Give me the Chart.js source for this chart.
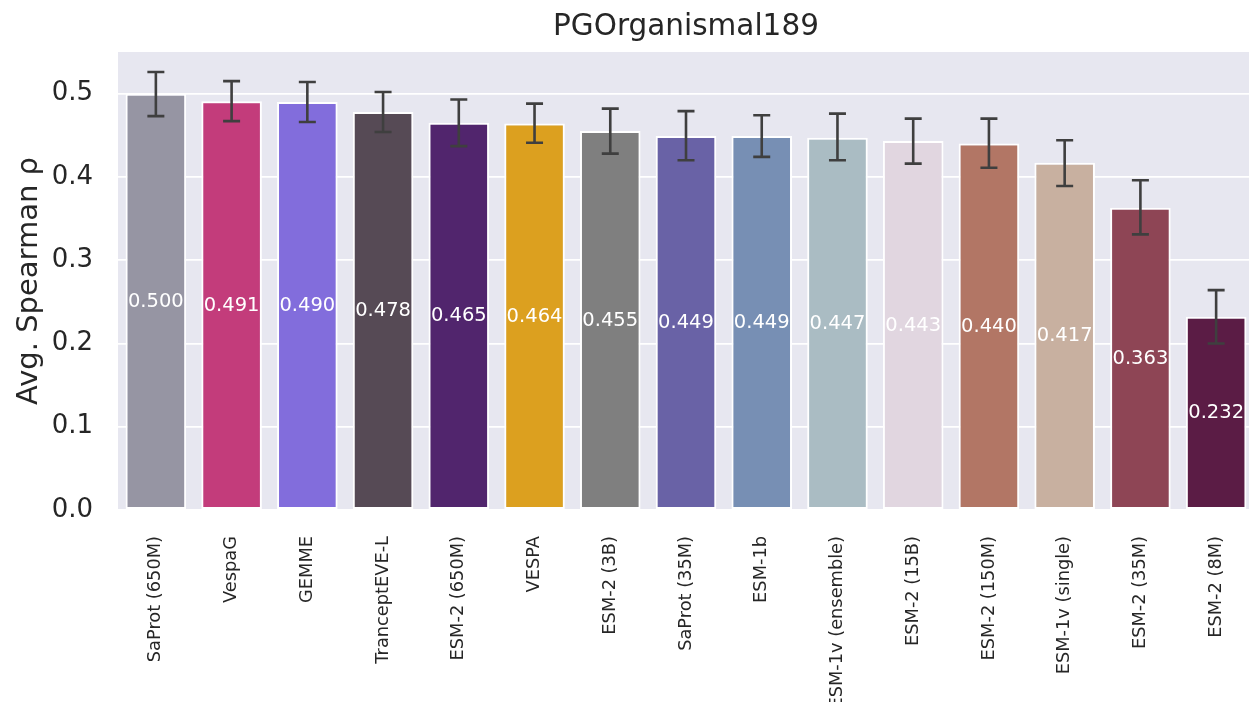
<!DOCTYPE html>
<html>
<head>
<meta charset="utf-8">
<script src="https://cdn.jsdelivr.net/npm/chart.js@4.4.1/dist/chart.umd.min.js"></script>
<style>
  html, body { margin: 0; padding: 0; background: #ffffff; overflow: hidden; width: 1249px; height: 702px; }
  #wrap { width: 1262px; height: 702px; }
</style>
</head>
<body>
<div id="wrap"><canvas id="c" width="1262" height="702"></canvas></div>
<script>
const chartTitle = "PGOrganismal189";
const yAxisTitle = "Avg. Spearman ρ";
const categories = ["SaProt (650M)", "VespaG", "GEMME", "TranceptEVE-L", "ESM-2 (650M)", "VESPA", "ESM-2 (3B)", "SaProt (35M)", "ESM-1b", "ESM-1v (ensemble)", "ESM-2 (15B)", "ESM-2 (150M)", "ESM-1v (single)", "ESM-2 (35M)", "ESM-2 (8M)"];
const values = [0.500, 0.491, 0.490, 0.478, 0.465, 0.464, 0.455, 0.449, 0.449, 0.447, 0.443, 0.440, 0.417, 0.363, 0.232];
const ciLow  = [0.473, 0.467, 0.466, 0.454, 0.437, 0.441, 0.428, 0.420, 0.424, 0.420, 0.416, 0.411, 0.389, 0.331, 0.200];
const ciHigh = [0.526, 0.515, 0.514, 0.502, 0.493, 0.488, 0.482, 0.479, 0.474, 0.476, 0.470, 0.470, 0.444, 0.396, 0.264];
const barColors = ["#9695a3", "#c33c7b", "#826ddc", "#564a55", "#51256d", "#dca01f", "#7f7f7f", "#6962a6", "#778fb4", "#aabcc3", "#e1d6e0", "#b27665", "#c8b0a0", "#8e4555", "#5b1c45"];
const yTicks = [0.0, 0.1, 0.2, 0.3, 0.4, 0.5];

const FONT = "'DejaVu Sans', sans-serif";
const TEXT = "#262626";

const overlay = {
  id: 'overlay',
  afterDatasetsDraw(chart) {
    const ctx = chart.ctx;
    const ys = chart.scales.y;
    const meta = chart.getDatasetMeta(0);
    ctx.save();
    ctx.fillStyle = "#ffffff";
    ctx.font = "19.5px " + FONT;
    ctx.textAlign = "center";
    ctx.textBaseline = "middle";
    values.forEach((v, i) => {
      const x = meta.data[i].x;
      ctx.fillText(v.toFixed(3), x, ys.getPixelForValue(v / 2));
    });
    ctx.strokeStyle = "#3f3f3f";
    ctx.lineWidth = 2.6;
    ctx.lineCap = "butt";
    values.forEach((v, i) => {
      const x = meta.data[i].x;
      const y1 = ys.getPixelForValue(ciLow[i]);
      const y2 = ys.getPixelForValue(ciHigh[i]);
      const cap = 8.5;
      ctx.beginPath();
      ctx.moveTo(x, y1); ctx.lineTo(x, y2);
      ctx.moveTo(x - cap, y1); ctx.lineTo(x + cap, y1);
      ctx.moveTo(x - cap, y2); ctx.lineTo(x + cap, y2);
      ctx.stroke();
    });
    ctx.restore();
  },
  afterDraw(chart) {
    const ctx = chart.ctx;
    const a = chart.chartArea;
    ctx.save();
    ctx.fillStyle = TEXT;
    ctx.font = "29.5px " + FONT;
    ctx.textAlign = "center";
    ctx.textBaseline = "alphabetic";
    ctx.fillText(chartTitle, (a.left + a.right) / 2, 35);
    ctx.translate(37, (a.top + a.bottom) / 2);
    ctx.rotate(-Math.PI / 2);
    ctx.font = "29px " + FONT;
    ctx.fillText(yAxisTitle, 0, 0);
    ctx.restore();
  },
  beforeDraw(chart) {
    const ctx = chart.ctx;
    const a = chart.chartArea;
    ctx.save();
    ctx.fillStyle = "#e7e7f0";
    ctx.fillRect(a.left, a.top, a.right - a.left, a.bottom - a.top);
    ctx.restore();
  }
};

new Chart(document.getElementById('c'), {
  type: 'bar',
  data: {
    labels: categories,
    datasets: [{
      data: values,
      backgroundColor: barColors,
      borderColor: "#ffffff",
      borderWidth: 2,
      borderSkipped: false,
      categoryPercentage: 0.8,
      barPercentage: 1.0
    }]
  },
  options: {
    responsive: false,
    animation: false,
    devicePixelRatio: 1,
    layout: { padding: { top: 52, right: 8, left: 0, bottom: 0 } },
    plugins: {
      legend: { display: false },
      tooltip: { enabled: false },
      title: { display: false }
    },
    scales: {
      x: {
        grid: { display: false },
        border: { display: false },
        ticks: {
          autoSkip: false,
          maxRotation: 90,
          minRotation: 90,
          padding: 18,
          color: TEXT,
          font: { family: FONT, size: 17.8 }
        },
        afterFit(scale) { scale.height = 192; }
      },
      y: {
        min: 0,
        max: 0.55,
        grid: { color: "#ffffff", lineWidth: 1.8, drawTicks: false },
        border: { display: false },
        afterBuildTicks(scale) { scale.ticks = yTicks.map(v => ({ value: v })); },
        ticks: {
          padding: 25,
          color: TEXT,
          font: { family: FONT, size: 26 },
          callback: (v) => Number(v).toFixed(1)
        },
        afterFit(scale) { scale.width = 118; }
      }
    }
  },
  plugins: [overlay]
});
</script>
</body>
</html>
